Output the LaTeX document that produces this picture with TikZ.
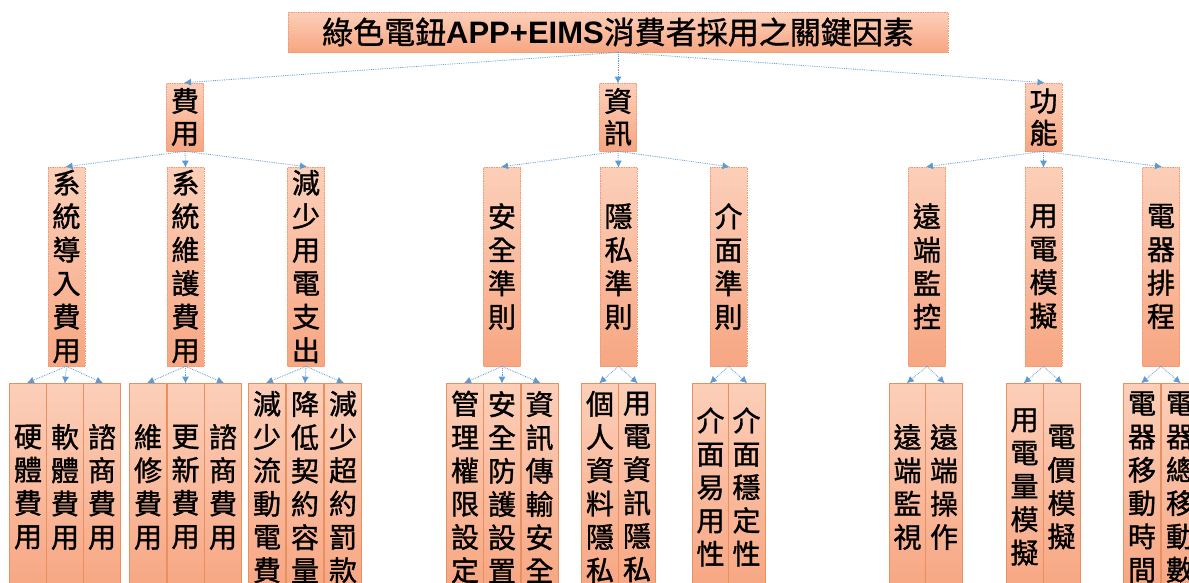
\documentclass[tikz,border=0pt]{standalone}
\usepackage{fontspec}
\setmainfont{Noto Sans CJK TC}[FakeBold=1.2]
\newfontfamily\latb{Liberation Sans}
\usetikzlibrary{arrows.meta}
\definecolor{boxtop}{HTML}{FCCFB9}
\definecolor{boxbot}{HTML}{F7A682}
\definecolor{boxline}{HTML}{F09A72}
\definecolor{leafline}{HTML}{E8915F}
\definecolor{conncol}{HTML}{5B9BD5}
\tikzset{
  box/.style={top color=boxtop, bottom color=boxbot, draw=boxline, densely dotted, line width=0.7pt,
    inner sep=0pt, align=center, font=\fontsize{28}{33.5}\selectfont, text=black},
  topbox/.style={box, minimum width=660pt, minimum height=40pt, font=\fontsize{31}{34}\selectfont},
  lvlone/.style={box, minimum width=37pt, minimum height=68pt, font=\fontsize{28}{32}\selectfont},
  lvltwo/.style={box, minimum width=37pt, minimum height=199pt},
  leaf/.style={box, solid, draw=leafline, line width=0.8pt, minimum width=37pt, minimum height=208pt, font=\fontsize{28}{33.3}\selectfont},
  conn/.style={draw=conncol, densely dotted, line width=0.8pt, -{Latex[length=7pt,width=7pt]}, shorten >=-1pt},
}
\begin{document}
\begin{tikzpicture}[x=1pt,y=-1pt]
\useasboundingbox (0,0) rectangle (1189,582);
\clip (0,0) rectangle (1189,582);
% title
\node[topbox] (T) at (618,32) {綠色電鈕{\latb\bfseries APP+EIMS}消費者採用之關鍵因素};
% level 1
\node[lvlone] (A) at (185,117) {費\\用};
\node[lvlone] (B) at (618,117) {資\\訊};
\node[lvlone] (C) at (1043.5,117) {功\\能};
% level 2
\node[lvltwo] (A1) at (66.5,266.5) {系\\統\\導\\入\\費\\用};
\node[lvltwo] (A2) at (185.5,266.5) {系\\統\\維\\護\\費\\用};
\node[lvltwo] (A3) at (306,266.5) {減\\少\\用\\電\\支\\出};
\node[lvltwo] (B1) at (502,266.5) {安\\全\\準\\則};
\node[lvltwo] (B2) at (618.5,266.5) {隱\\私\\準\\則};
\node[lvltwo] (B3) at (728.5,266.5) {介\\面\\準\\則};
\node[lvltwo] (C1) at (927,266.5) {遠\\端\\監\\控};
\node[lvltwo] (C2) at (1043.5,266.5) {用\\電\\模\\擬};
\node[lvltwo] (C3) at (1161,266.5) {電\\器\\排\\程};
% level 3
\node[leaf] (A1a) at (28,487) {硬\\體\\費\\用};
\node[leaf] (A1b) at (65,487) {軟\\體\\費\\用};
\node[leaf] (A1c) at (102,487) {諮\\商\\費\\用};
\node[leaf] (A2a) at (148,487) {維\\修\\費\\用};
\node[leaf] (A2b) at (185.5,487) {更\\新\\費\\用};
\node[leaf] (A2c) at (223,487) {諮\\商\\費\\用};
\node[leaf] (A3a) at (267,487) {減\\少\\流\\動\\電\\費};
\node[leaf] (A3b) at (305,487) {降\\低\\契\\約\\容\\量};
\node[leaf] (A3c) at (343,487) {減\\少\\超\\約\\罰\\款};
\node[leaf] (B1a) at (465,487) {管\\理\\權\\限\\設\\定};
\node[leaf] (B1b) at (502,487) {安\\全\\防\\護\\設\\置};
\node[leaf] (B1c) at (539.5,487) {資\\訊\\傳\\輸\\安\\全};
\node[leaf] (B2a) at (600,487) {個\\人\\資\\料\\隱\\私};
\node[leaf] (B2b) at (637,487) {用\\電\\資\\訊\\隱\\私};
\node[leaf] (B3a) at (710.5,487) {介\\面\\易\\用\\性};
\node[leaf] (B3b) at (746.5,487) {介\\面\\穩\\定\\性};
\node[leaf] (C1a) at (907.5,487) {遠\\端\\監\\視};
\node[leaf] (C1b) at (944,487) {遠\\端\\操\\作};
\node[leaf] (C2a) at (1024.5,487) {用\\電\\量\\模\\擬};
\node[leaf] (C2b) at (1061.5,487) {電\\價\\模\\擬};
\node[leaf] (C3a) at (1142,487) {電\\器\\移\\動\\時\\間};
\node[leaf] (C3b) at (1180,487) {電\\器\\總\\移\\動\\數};
% connectors
\foreach \c in {A,B,C} \draw[conn] (T.south) -- (\c.north);
\foreach \c in {A1,A2,A3} \draw[conn] (A.south) -- (\c.north);
\foreach \c in {B1,B2,B3} \draw[conn] (B.south) -- (\c.north);
\foreach \c in {C1,C2,C3} \draw[conn] (C.south) -- (\c.north);
\foreach \p in {A1,A2,A3,B1} \foreach \s in {a,b,c} \draw[conn] (\p.south) -- (\p\s.north);
\foreach \p in {B2,B3,C1,C2,C3} \foreach \s in {a,b} \draw[conn] (\p.south) -- (\p\s.north);
\end{tikzpicture}
\end{document}
